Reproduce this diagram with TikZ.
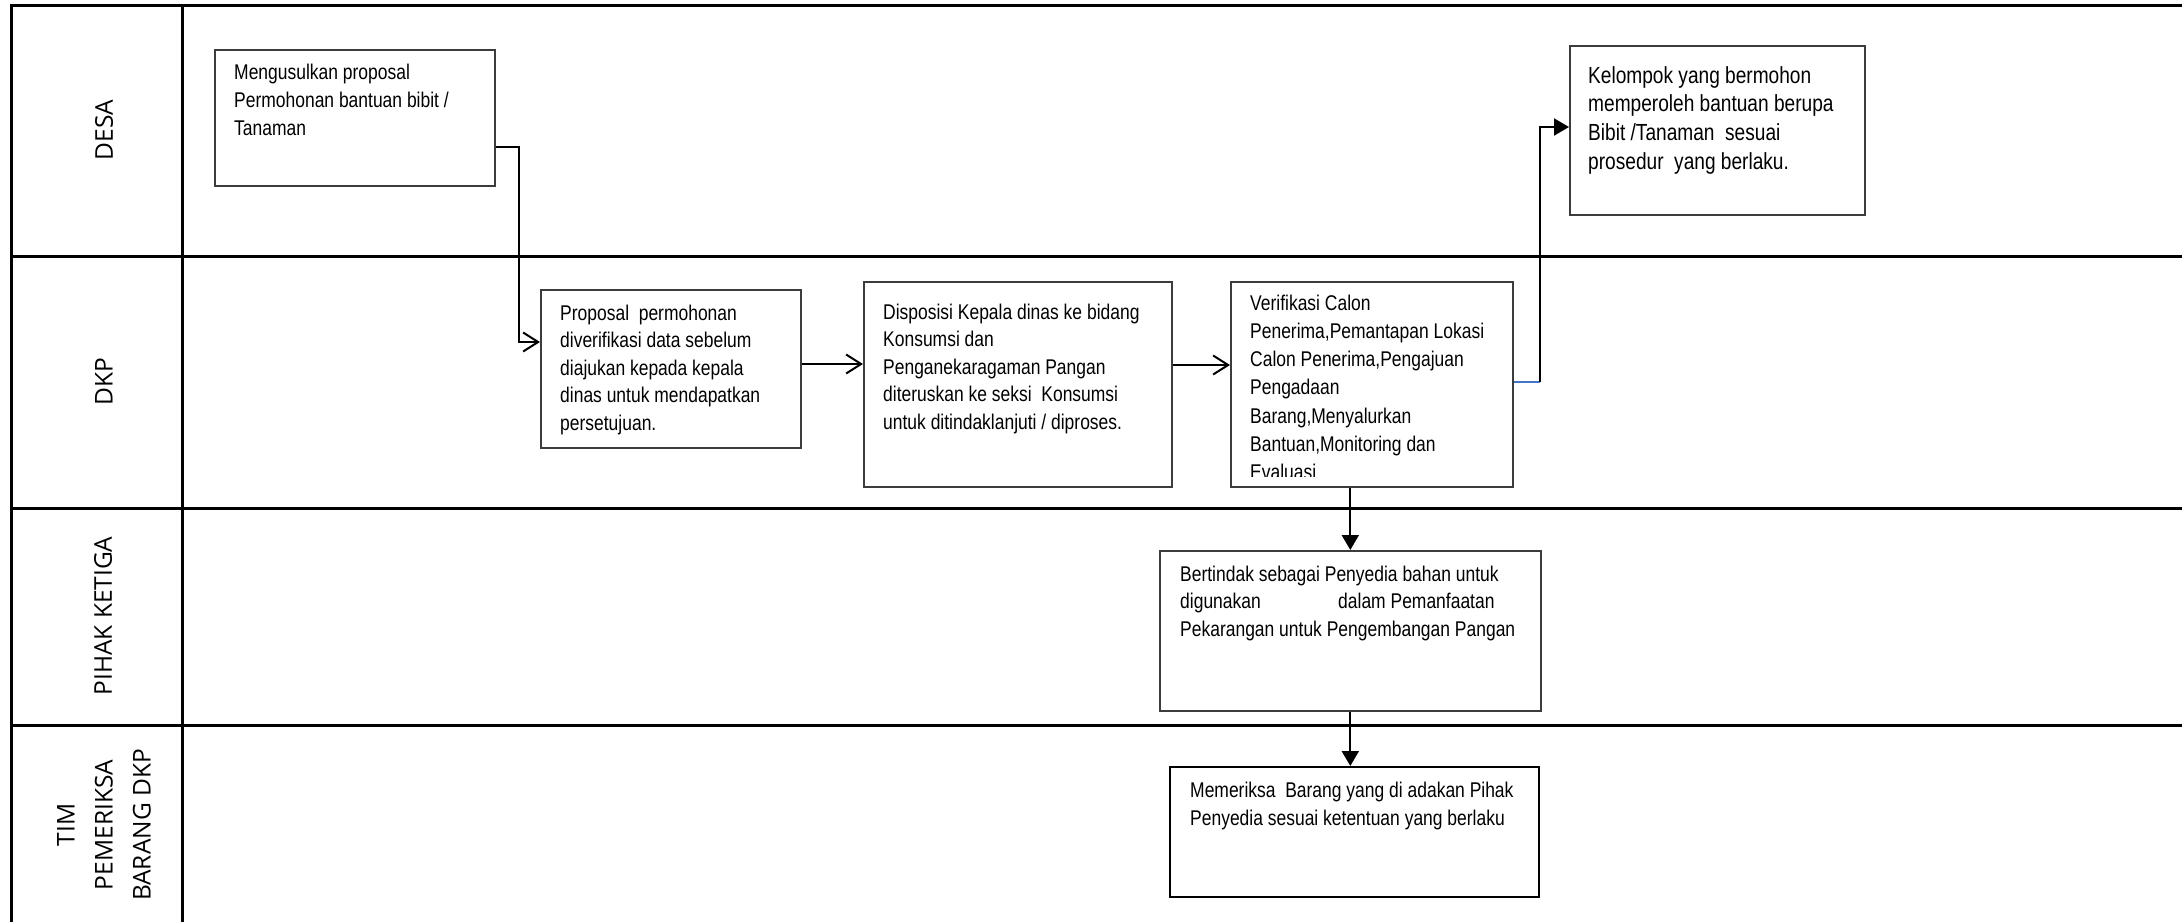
\documentclass[tikz,border=0pt]{standalone}
\usepackage{fontspec}
\setmainfont{Liberation Sans}[FakeStretch=0.82]
\newfontfamily\lanefont{Open Sans}
\usetikzlibrary{arrows.meta}
\definecolor{boxgray}{HTML}{3C3C3C}
\definecolor{linkblue}{HTML}{4472C4}
\newcommand{\btext}[2][27.8]{\parbox[t]{420pt}{\raggedright\fontsize{21.3}{#1}\selectfont #2}}
\begin{document}
\begin{tikzpicture}[x=1pt,y=-1pt,
  laneline/.style={line width=3pt,black},
  procbox/.style={draw=boxgray,line width=1.6pt,anchor=north west,inner sep=0pt,fill=white},
  boxtext/.style={anchor=base west,inner sep=0pt},
  lanelabel/.style={rotate=90,inner sep=0pt,font=\lanefont\fontsize{24.5}{38}\selectfont,align=center},
  conn/.style={line width=2pt,black},
  openarrow/.style={conn,-{Straight Barb[length=15pt,width=19pt,line width=2pt]}},
  filledarrow/.style={conn,-{Triangle[length=15pt,width=17pt]}}]
\useasboundingbox (0,0) rectangle (2182,922);
% swimlane frame
\draw[laneline] (11,922) -- (11,5) -- (2182,5);
\draw[laneline] (182,5) -- (182,922);
\draw[laneline] (11,256) -- (2182,256);
\draw[laneline] (11,508) -- (2182,508);
\draw[laneline] (11,725) -- (2182,725);
% lane labels
\node[lanelabel] (lDESA) at (104,130) {DESA};
\node[lanelabel] (lDKP) at (104,382) {DKP};
\node[lanelabel] (lPIHAK) at (103,616) {PIHAK KETIGA};
\node[lanelabel] (lTIM) at (104,825) {TIM\\PEMERIKSA\\BARANG DKP};
% boxes
\node[procbox,minimum width=280pt,minimum height=136pt] (b1) at (214,49) {};
\node[procbox,minimum width=260pt,minimum height=158pt] (b2) at (540,289) {};
\node[procbox,minimum width=308pt,minimum height=205pt] (b3) at (863,281) {};
\node[procbox,minimum width=282pt,minimum height=205pt] (b4) at (1230,281) {};
\node[procbox,minimum width=295pt,minimum height=169pt] (b5) at (1569,45) {};
\node[procbox,minimum width=381pt,minimum height=160pt] (b6) at (1159,550) {};
\node[procbox,draw=black,line width=2.4pt,minimum width=369pt,minimum height=130pt] (b7) at (1169,766) {};
% texts
\node[boxtext] (t1) at (234,79) {\btext[28.3]{Mengusulkan proposal\\Permohonan bantuan bibit /\\Tanaman}};
\node[boxtext] (t2) at (560,320) {\btext[27.5]{Proposal\ \ permohonan\\diverifikasi data sebelum\\diajukan kepada kepala\\dinas untuk mendapatkan\\persetujuan.}};
\node[boxtext] (t3) at (883,319) {\btext[27.5]{Disposisi Kepala dinas ke bidang\\Konsumsi dan\\Penganekaragaman Pangan\\diteruskan ke seksi\ \ Konsumsi\\untuk ditindaklanjuti / diproses.}};
\begin{scope}
\clip (1231,282) rectangle (1511,476);
\node[boxtext] (t4) at (1250,310) {\btext[28.3]{Verifikasi Calon\\Penerima,Pemantapan Lokasi\\Calon Penerima,Pengajuan\\Pengadaan\\Barang,Menyalurkan\\Bantuan,Monitoring dan\\Evaluasi}};
\end{scope}
\node[boxtext] (t5) at (1588,83) {\parbox[t]{420pt}{\raggedright\fontsize{23.3}{28.9}\selectfont Kelompok yang bermohon\\memperoleh bantuan berupa\\Bibit /Tanaman\ \ sesuai\\prosedur\ \ yang berlaku.}};
\node[boxtext] (t6) at (1180,581) {\btext[27.7]{Bertindak sebagai Penyedia bahan untuk\\\makebox[158pt][l]{digunakan}dalam Pemanfaatan\\Pekarangan untuk Pengembangan Pangan}};
\node[boxtext] (t7) at (1190,797) {\btext[28.3]{Memeriksa\ \ Barang yang di adakan Pihak\\Penyedia sesuai ketentuan yang berlaku}};
% connectors
\draw[openarrow] ([yshift=-98pt]b1.north east) -- ++(23,0) |- ([yshift=-53pt]b2.north west);
\draw[openarrow] ([yshift=-75pt]b2.north east) -- ([yshift=-83pt]b3.north west);
\draw[openarrow] ([yshift=-84pt]b3.north east) -- ([yshift=-84pt]b4.north west);
\coordinate (j45) at (1540,382);
\draw[line width=2pt,linkblue] ([yshift=-101pt]b4.north east) -- (j45);
\draw[filledarrow] (j45) |- ([yshift=-82pt]b5.north west);
\draw[filledarrow] (b4.south -| b6.north) -- (b6.north);
\draw[filledarrow] (b6.south) -- (b6.south |- b7.north);
\end{tikzpicture}
\end{document}
